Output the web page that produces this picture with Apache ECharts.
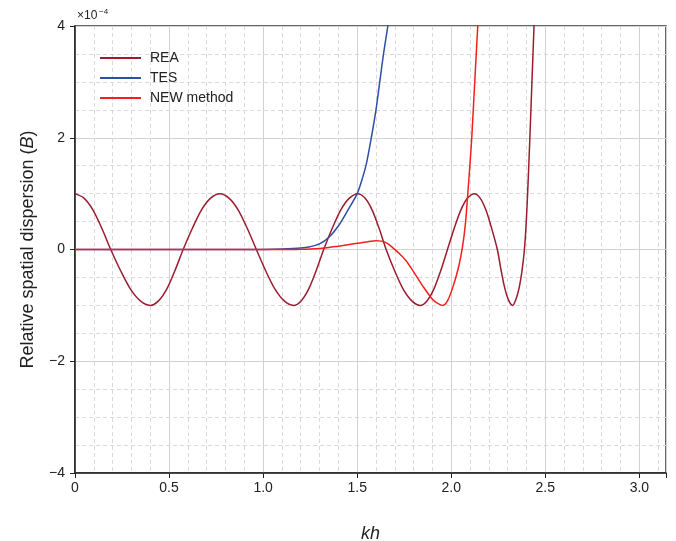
<!DOCTYPE html>
<html>
<head>
<meta charset="utf-8">
<script src="https://cdn.jsdelivr.net/npm/echarts@6/dist/echarts.min.js"></script>
<style>html,body{margin:0;padding:0;background:#fff}#c{width:676px;height:541px}</style>
</head>
<body>
<div id="c"></div>
<script>
// ---- data (kh, B in units of 1e-4) ----
const reaKh = [0, 0.0475, 0.095, 0.1425, 0.19, 0.2425, 0.295, 0.3475, 0.40, 0.444, 0.4875, 0.531, 0.575, 0.624, 0.6725, 0.721, 0.77, 0.8185, 0.867, 0.9155, 0.964, 1.0135, 1.063, 1.1125, 1.162, 1.202, 1.242, 1.282, 1.322, 1.3675, 1.413, 1.4585, 1.504, 1.5415, 1.579, 1.6165, 1.654, 1.699, 1.7445, 1.79, 1.835, 1.871, 1.9075, 1.944, 1.98, 2.016, 2.0515, 2.087, 2.123, 2.1535, 2.184, 2.2145, 2.245, 2.2655, 2.286, 2.3065, 2.327, 2.345, 2.36, 2.371, 2.38, 2.389, 2.398, 2.406, 2.418, 2.429, 2.44, 2.45];
const reaB  = [1, 0.92, 0.71, 0.38, 0, -0.38, -0.71, -0.92, -1, -0.92, -0.71, -0.38, 0, 0.38, 0.71, 0.92, 1, 0.92, 0.71, 0.38, 0, -0.38, -0.71, -0.92, -1, -0.92, -0.71, -0.38, 0, 0.38, 0.71, 0.92, 1, 0.92, 0.71, 0.38, 0, -0.38, -0.71, -0.92, -1, -0.92, -0.71, -0.38, 0, 0.38, 0.71, 0.92, 1, 0.92, 0.71, 0.38, 0, -0.38, -0.71, -0.92, -1, -0.88, -0.7, -0.5, -0.28, 0, 0.45, 1, 2, 3, 4, 5];

const tesKh = [0, 0.5, 1.0, 1.1, 1.2, 1.25, 1.3, 1.35, 1.4, 1.45, 1.5, 1.53, 1.55, 1.575, 1.6, 1.62, 1.64, 1.663, 1.68];
const tesB  = [0, 0, 0.002, 0.008, 0.025, 0.05, 0.1, 0.22, 0.42, 0.7, 1.0, 1.3, 1.55, 2.0, 2.5, 3.0, 3.5, 4.0, 4.4];

const newKh = [0, 0.5, 1.0, 1.15, 1.2, 1.25, 1.3, 1.35, 1.4, 1.45, 1.5, 1.55, 1.6, 1.63, 1.66, 1.69, 1.72, 1.76, 1.8, 1.85, 1.9, 1.93, 1.955, 1.98, 2.01, 2.04, 2.06, 2.075, 2.088, 2.1, 2.109, 2.125, 2.141, 2.15];
const newB  = [0, 0, 0, 0.001, 0.003, 0.008, 0.018, 0.035, 0.06, 0.085, 0.11, 0.135, 0.155, 0.15, 0.11, 0.03, -0.06, -0.2, -0.4, -0.66, -0.89, -0.97, -1.0, -0.92, -0.66, -0.3, 0.05, 0.45, 1.0, 1.55, 2.0, 3.0, 4.0, 4.5];

const seriesNames = ['REA', 'TES', 'NEW method'];
const xTickLabels = ['0', '0.5', '1.0', '1.5', '2.0', '2.5', '3.0'];
const yTickLabels = ['\u22124', '\u22122', '0', '2', '4'];

function pairs(xs, ys) { return xs.map((x, i) => [x, ys[i]]); }

const FONT = 'Liberation Sans, Arial, sans-serif';
const chart = echarts.init(document.getElementById('c'), null, {renderer: 'canvas'});
const gridCol = '#d2d2d2';
const minorStyle = {color: '#d9d9d9', type: [4, 3], width: 1};

chart.setOption({
  backgroundColor: '#fff',
  animation: false,
  grid: {left: 75, right: 10, top: 26, bottom: 68, show: true, borderColor: '#333', borderWidth: 1.5, backgroundColor: 'transparent', containLabel: false, outerBoundsMode: 'none'},
  legend: {
    left: 100, top: 50, orient: 'vertical', itemWidth: 41, itemHeight: 2, itemGap: 4, icon: 'rect', padding: 0,
    textStyle: {fontFamily: FONT, fontSize: 14, color: '#222', lineHeight: 16, padding: [0, 0, 0, 4]},
    data: seriesNames
  },
  xAxis: [
    {
      type: 'value', min: 0, max: Math.PI, interval: 0.1,
      axisLine: {show: false}, axisTick: {show: false}, axisLabel: {show: false},
      splitLine: {show: true, lineStyle: minorStyle}
    },
    {
      type: 'value', min: 0, max: Math.PI, interval: 0.5, position: 'bottom',
      name: 'kh', nameLocation: 'middle', nameGap: 52,
      nameTextStyle: {fontFamily: FONT, fontSize: 18, fontStyle: 'italic', color: '#222'},
      axisLine: {show: true, onZero: false, lineStyle: {color: '#222', width: 1.5}},
      axisTick: {show: true, inside: false, length: 5, lineStyle: {color: '#222'}},
      axisLabel: {
        fontFamily: FONT, fontSize: 14, color: '#222', margin: 8,
        formatter: function (v) {
          const k = Math.round(v / 0.5);
          if (Math.abs(v - k * 0.5) > 1e-6) return '';
          return xTickLabels[k] || '';
        }
      },
      splitLine: {show: true, lineStyle: {color: gridCol, width: 1}}
    }
  ],
  yAxis: {
    type: 'value', min: -4, max: 4, interval: 2,
    name: 'Relative spatial dispersion ({i|B})', nameLocation: 'middle', nameGap: 38, nameRotate: 90,
    nameTextStyle: {fontFamily: FONT, fontSize: 18, color: '#222', rich: {i: {fontFamily: FONT, fontSize: 18, fontStyle: 'italic', color: '#222'}}},
    axisLine: {show: true, onZero: false, lineStyle: {color: '#222', width: 1.5}},
    axisTick: {show: true, length: 5, lineStyle: {color: '#222'}},
    axisLabel: {
      fontFamily: FONT, fontSize: 14, color: '#222', margin: 10,
      formatter: function (v) { return yTickLabels[Math.round((v + 4) / 2)]; }
    },
    splitLine: {show: true, lineStyle: {color: gridCol, width: 1}},
    minorTick: {show: false, splitNumber: 4},
    minorSplitLine: {show: true, lineStyle: minorStyle}
  },
  graphic: [
    {type: 'text', left: 77, top: 10, style: {text: '\u00d710', font: '12px ' + FONT, fill: '#222'}},
    {type: 'text', left: 99, top: 8, style: {text: '\u22124', font: '8px ' + FONT, fill: '#222'}}
  ],
  series: [
    {name: 'REA', type: 'line', xAxisIndex: 1, data: pairs(reaKh, reaB), showSymbol: false, symbol: 'none', smooth: 0.3, clip: true, lineStyle: {color: '#9b1c2e', width: 1.5}, itemStyle: {color: '#9b1c2e'}, z: 3},
    {name: 'TES', type: 'line', xAxisIndex: 1, data: pairs(tesKh, tesB), showSymbol: false, symbol: 'none', smooth: 0.3, clip: true, lineStyle: {color: '#2f4fa6', width: 1.5}, itemStyle: {color: '#2f4fa6'}, z: 4},
    {name: 'NEW method', type: 'line', xAxisIndex: 1, data: pairs(newKh, newB), showSymbol: false, symbol: 'none', smooth: 0.3, clip: true, lineStyle: {color: '#f41e1e', width: 1.5}, itemStyle: {color: '#f41e1e'}, z: 5}
  ]
});
</script>
</body>
</html>
